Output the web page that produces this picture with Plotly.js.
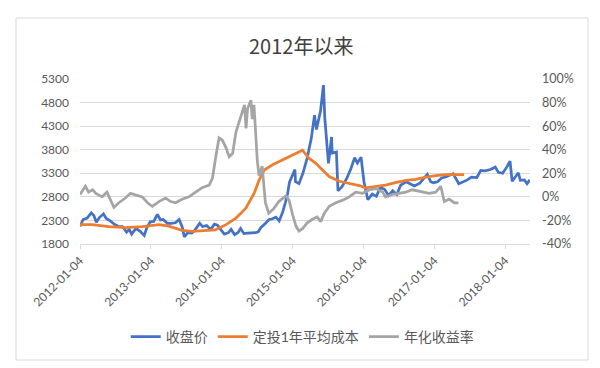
<!DOCTYPE html>
<html>
<head>
<meta charset="utf-8">
<script src="https://cdn.plot.ly/plotly-3.0.1.min.js"></script>
<style>html,body{margin:0;padding:0;background:#fff;}#chart{width:600px;height:368px;}</style>
</head>
<body>
<div id="chart"></div>
<script>
// 收盘价
const closeDates = ['2012-01-04','2012-01-20','2012-02-10','2012-03-02','2012-03-16','2012-03-28','2012-04-13','2012-05-04','2012-05-18','2012-06-08','2012-06-29','2012-07-20','2012-08-10','2012-08-31','2012-09-14','2012-09-26','2012-10-19','2012-11-09','2012-11-30','2012-12-14','2012-12-31',
'2013-01-18','2013-02-06','2013-02-22','2013-03-08','2013-03-29','2013-04-19','2013-05-10','2013-05-29','2013-06-14','2013-06-25','2013-07-12','2013-08-02','2013-08-16','2013-09-12','2013-09-27','2013-10-18','2013-11-08','2013-11-27','2013-12-13','2013-12-31',
'2014-01-17','2014-02-07','2014-02-21','2014-03-11','2014-03-28','2014-04-11','2014-04-28','2014-05-16','2014-06-06','2014-06-27','2014-07-11','2014-07-25','2014-08-15','2014-09-05','2014-09-19','2014-10-10','2014-10-27','2014-11-14','2014-11-28','2014-12-09','2014-12-19','2014-12-31',
'2015-01-16','2015-01-19','2015-02-06','2015-02-27','2015-03-20','2015-04-10','2015-04-27','2015-05-07','2015-05-28','2015-06-12','2015-06-19','2015-07-08','2015-07-24','2015-07-27','2015-08-18','2015-08-26','2015-09-15','2015-10-09','2015-10-30','2015-11-20','2015-12-04','2015-12-23',
'2016-01-07','2016-01-27','2016-02-19','2016-03-11','2016-03-31','2016-04-22','2016-05-13','2016-06-03','2016-06-24','2016-07-15','2016-08-12','2016-08-31','2016-09-23','2016-10-21','2016-11-11','2016-11-29','2016-12-16','2016-12-30',
'2017-01-20','2017-02-10','2017-03-03','2017-03-24','2017-04-11','2017-05-10','2017-05-31','2017-06-23','2017-07-14','2017-08-11','2017-08-31','2017-09-22','2017-10-20','2017-11-14','2017-11-30','2017-12-22',
'2018-01-12','2018-01-29','2018-02-09','2018-03-13','2018-03-23','2018-04-13','2018-04-27','2018-05-11'];
const closeValues = [2170,2320,2350,2460,2400,2260,2360,2440,2340,2290,2220,2170,2170,2050,2110,2010,2130,2070,1980,2150,2270,
2280,2430,2310,2320,2240,2240,2250,2320,2160,1950,2040,2030,2080,2240,2170,2190,2110,2220,2200,2100,
2010,2040,2110,2000,2040,2130,2020,2030,2030,2040,2060,2150,2230,2320,2330,2370,2290,2480,2680,2860,3110,3230,
3380,3120,3080,3310,3620,4030,4530,4230,4620,5170,4480,3510,4070,3730,3750,2930,3010,3180,3380,3630,3520,3640,
3120,2740,2860,2810,3000,2960,2830,2930,2850,3050,3120,3080,3030,3090,3190,3280,3120,3100,
3120,3200,3220,3260,3290,3080,3120,3160,3220,3210,3360,3350,3380,3430,3320,3300,
3430,3560,3130,3310,3150,3160,3080,3160];

// 定投1年平均成本
const costDates = ['2012-01-04','2012-03-07','2012-06-01','2012-08-25','2012-11-20','2013-02-14','2013-04-06','2013-06-13','2013-08-03','2013-10-12','2013-12-02',
'2014-01-26','2014-03-18','2014-05-08','2014-06-20','2014-07-16','2014-08-11','2014-09-23','2014-11-13','2015-01-04','2015-02-06','2015-02-24',
'2015-03-29','2015-05-04','2015-06-07','2015-07-12','2015-09-01','2015-10-23','2015-12-14','2016-01-15','2016-03-07','2016-04-27','2016-06-17',
'2016-08-10','2016-09-30','2016-11-20','2017-01-11','2017-03-04','2017-04-24','2017-06-06'];
const costValues = [2210,2210,2170,2150,2170,2210,2180,2090,2070,2080,2100,
2210,2350,2560,2880,3160,3370,3480,3580,3690,3760,3790,
3620,3510,3370,3230,3130,3090,3040,2990,3020,3050,3100,
3150,3170,3220,3250,3270,3270,3270];

// 年化收益率 (%)
const yieldDates = ['2012-01-04','2012-01-18','2012-02-01','2012-02-17','2012-03-09','2012-03-26','2012-04-27','2012-05-22','2012-06-09','2012-06-27','2012-07-22','2012-08-25','2012-09-20','2012-10-16','2012-11-20','2012-12-17',
'2013-01-11','2013-02-14','2013-03-20','2013-04-16','2013-05-11','2013-06-13','2013-07-19','2013-08-22','2013-09-27','2013-10-31','2013-11-17','2013-12-04','2013-12-21',
'2014-01-07','2014-01-25','2014-02-11','2014-03-01','2014-03-18','2014-04-13','2014-05-01','2014-05-09','2014-05-17','2014-06-03','2014-06-10','2014-06-19','2014-07-06','2014-07-15','2014-07-31','2014-08-17','2014-09-03','2014-09-29','2014-10-25','2014-12-01','2014-12-17',
'2015-01-04','2015-01-22','2015-02-06','2015-02-24','2015-03-21','2015-04-16','2015-05-11','2015-05-29','2015-06-16','2015-07-12','2015-08-15','2015-09-17','2015-10-23','2015-11-25','2015-12-31',
'2016-02-03','2016-03-07','2016-04-12','2016-04-27','2016-06-02','2016-07-06','2016-08-10','2016-09-12','2016-11-02','2016-12-08',
'2017-01-11','2017-02-06','2017-02-24','2017-03-21','2017-04-16','2017-05-08'];
const yieldValues = [2,6,9,4,6,3,0,4,-3,-9,-5,-1,3,2,0,-5,
-8,-4,-1,-4,-5,-2,0,4,8,10,16,34,50,
48,42,34,37,55,68,78,58,75,82,66,78,31,18,26,-5,-14,-10,-4,1,-3,
-15,-25,-29,-27,-22,-19,-17,-21,-14,-8,-5,-3,0,4,3,
6,7,4,0,2,3,4,6,4,3,
4,9,-4,-2,-5,-5];

const xTickDates = ['2012-01-04','2013-01-04','2014-01-04','2015-01-04','2016-01-04','2017-01-04','2018-01-04'];
const leftTicks = [1800,2300,2800,3300,3800,4300,4800,5300];
const rightTicks = [-40,-20,0,20,40,60,80,100];
const rightTickText = ['-40%','-20%','0%','20%','40%','60%','80%','100%'];

const FONT = 'Lato, "Noto Sans CJK SC", sans-serif';
const GRAY = '#595959';

const traces = [
  {x: closeDates, y: closeValues, name: '收盘价', type: 'scatter', mode: 'lines',
   line: {color: '#4472C4', width: 2.75}},
  {x: costDates, y: costValues, name: '定投1年平均成本', type: 'scatter', mode: 'lines',
   line: {color: '#ED7D31', width: 2.75}},
  {x: yieldDates, y: yieldValues, name: '年化收益率', type: 'scatter', mode: 'lines', yaxis: 'y2',
   line: {color: '#A5A5A5', width: 2.75}}
];

const layout = {
  width: 600, height: 368,
  margin: {l: 80, r: 70, t: 79, b: 124},
  paper_bgcolor: '#ffffff', plot_bgcolor: '#ffffff',
  font: {family: FONT, color: GRAY, size: 12},
  title: {text: '2012年以来', x: 0.502, xref: 'container', xanchor: 'center',
          y: 1 - 47/368, yref: 'container', yanchor: 'middle',
          font: {family: '"Noto Sans CJK SC", sans-serif', size: 20, color: '#404040'}},
  xaxis: {type: 'date', range: ['2012-01-04', '2018-05-12'],
          tickvals: xTickDates, ticktext: xTickDates, tickangle: -45,
          showgrid: false, showline: true, linecolor: '#d9d9d9', linewidth: 1,
          ticks: 'outside', ticklen: 4, tickcolor: '#d9d9d9',
          tickfont: {size: 12, color: GRAY}, zeroline: false},
  yaxis: {range: [1800, 5300], tickvals: leftTicks, showgrid: true, gridcolor: '#d9d9d9', gridwidth: 1,
          zeroline: false, showline: false, ticks: '', tickfont: {size: 12, color: GRAY},
          ticklabelstandoff: 10},
  yaxis2: {range: [-40, 100], tickvals: rightTicks, ticktext: rightTickText, overlaying: 'y', side: 'right',
           showgrid: false, zeroline: false, showline: false, ticks: '', tickfont: {size: 12.5, color: GRAY},
           ticklabelstandoff: 11},
  showlegend: true,
  legend: {orientation: 'h', x: 0.495, xanchor: 'center', y: (244 - 337) / 165, yanchor: 'middle',
           font: {size: 14, color: GRAY}, bgcolor: 'rgba(0,0,0,0)', traceorder: 'normal'},
  shapes: [{type: 'rect', xref: 'paper', yref: 'paper',
            x0: (16 - 80) / 450, x1: (588 - 80) / 450, y0: (244 - 360) / 165, y1: (244 - 18) / 165,
            line: {color: '#d9d9d9', width: 1}, fillcolor: 'rgba(0,0,0,0)', layer: 'below'}]
};

Plotly.newPlot('chart', traces, layout, {displayModeBar: false, staticPlot: true});
</script>
</body>
</html>
